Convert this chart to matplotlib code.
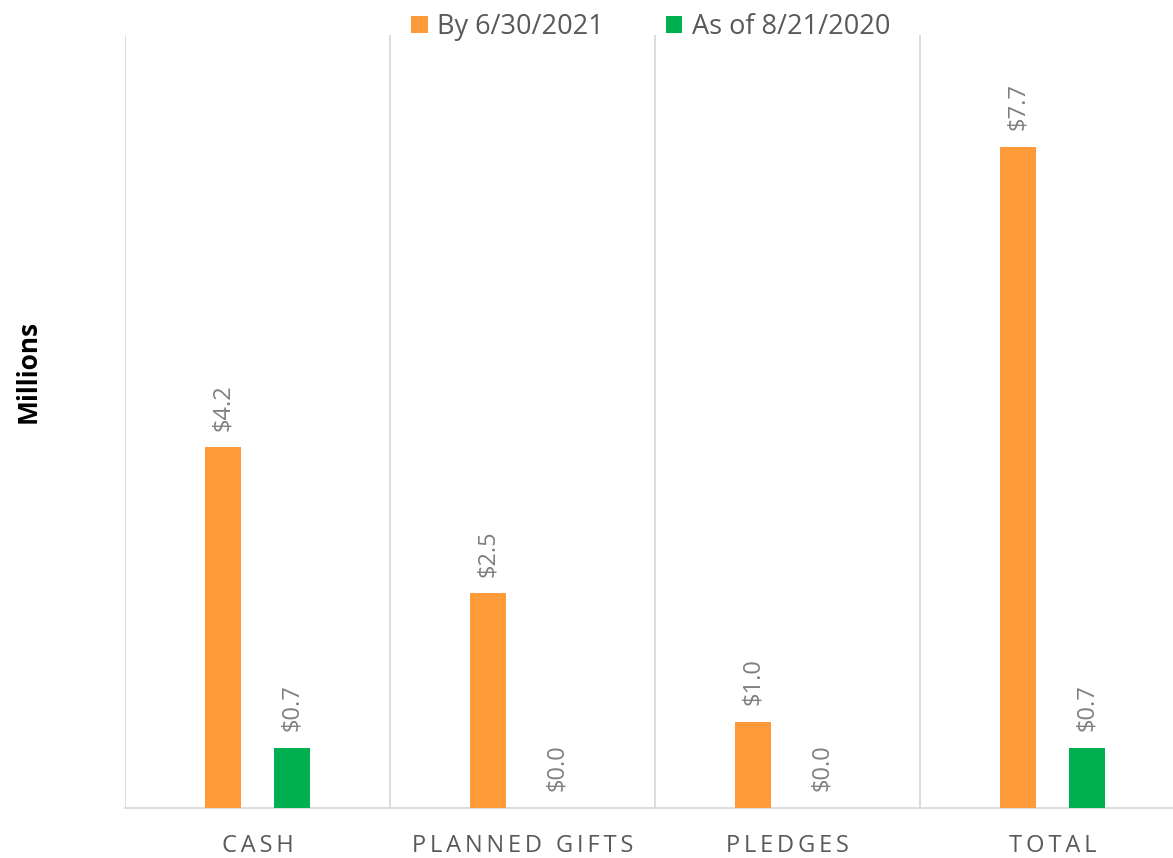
import matplotlib.pyplot as plt
import numpy as np

plt.rcParams['font.family'] = ['Open Sans', 'DejaVu Sans']

categories = ["CASH", "PLANNED GIFTS", "PLEDGES", "TOTAL"]
series_names = ["By 6/30/2021", "As of 8/21/2020"]
goal = [4.2, 2.5, 1.0, 7.7]
actual = [0.7, 0.0, 0.0, 0.7]
colors = ["#ff9a3a", "#00b050"]

fig = plt.figure(figsize=(11.73, 8.58), dpi=100)
# plot area runs past the right edge of the image, as in the original
ax = fig.add_axes([0.1066, 0.0583, 0.9037, 0.9007])

x = np.arange(len(categories))
width = 0.136
offset = 0.13

for vals, dx, col, name in [(goal, -offset, colors[0], series_names[0]),
                            (actual, offset, colors[1], series_names[1])]:
    bars = ax.bar(x + dx, vals, width, color=col, label=name, zorder=3)
    for b, v in zip(bars, vals):
        ax.annotate(f"${v:.1f}", (b.get_x() + b.get_width() / 2, v),
                    xytext=(0, 12), textcoords="offset points",
                    rotation=90, ha="center", va="bottom",
                    fontsize=17, color="#7f7f7f")

ax.set_xlim(-0.5, 3.5)
ax.set_ylim(0, 9)
ax.set_yticks([])
ax.set_xticks(x)
# spaced-out capitals like the original
ax.set_xticklabels(["\u2009".join(c) for c in categories], fontsize=17, color="#595959")
ax.tick_params(axis="x", length=0, pad=19)

# category separators
for b in np.arange(-0.5, 3.6, 1.0):
    ax.axvline(b, color="#d9d9d9", lw=1.3, zorder=1)

for s in ["top", "right", "left"]:
    ax.spines[s].set_visible(False)
ax.spines["bottom"].set_color("#d9d9d9")
ax.spines["bottom"].set_linewidth(1.3)

ax.set_ylabel("Millions", fontsize=19, fontweight="bold")
ax.yaxis.set_label_coords(-0.079, 0.565)

ax.legend(loc="upper center", bbox_to_anchor=(0.496, 1.06), ncol=2,
          frameon=False, fontsize=19.5, labelcolor="#595959",
          handlelength=0.6, handleheight=0.6, handletextpad=0.35,
          columnspacing=2.3)

fig.savefig("out.png", dpi=100)
